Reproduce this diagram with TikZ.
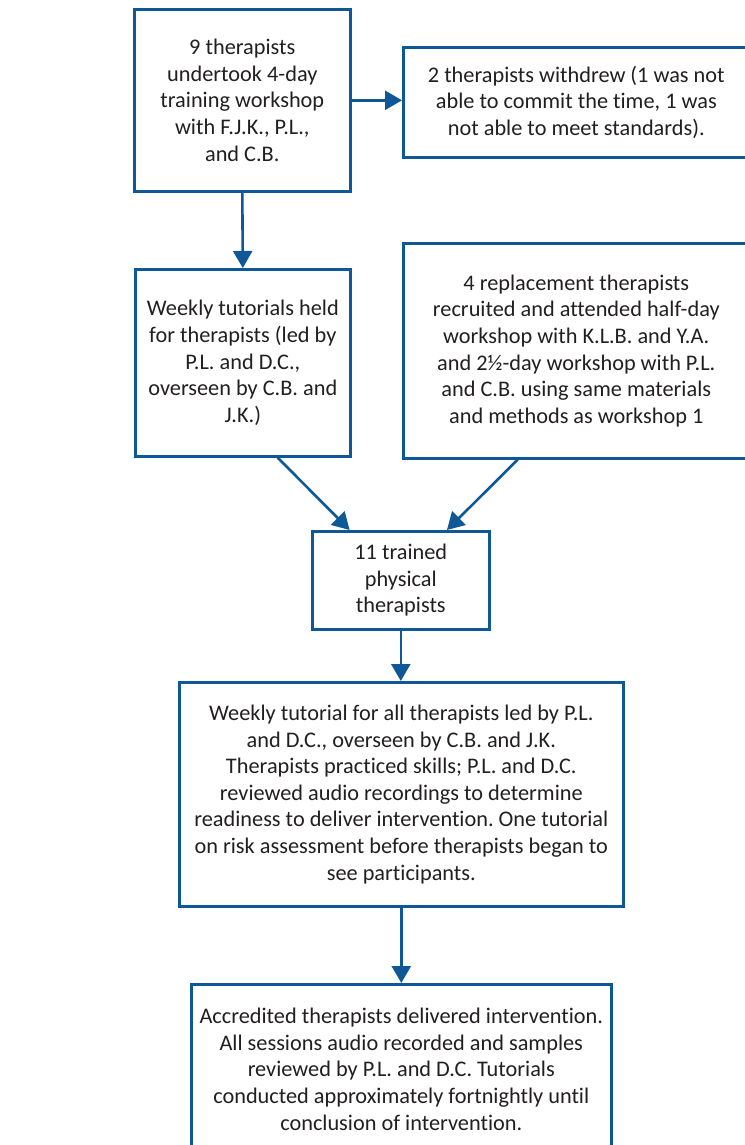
\documentclass[tikz,border=0pt]{standalone}
\usepackage{fontspec}
\setmainfont{Carlito}[Ligatures=NoCommon]
\usetikzlibrary{arrows.meta,calc}
\frenchspacing
\definecolor{boxblue}{RGB}{14,88,152}
\definecolor{txt}{RGB}{35,31,32}
\tikzset{
  flowbox/.style={draw=boxblue, line width=2.6pt, fill=white, anchor=north west, align=center,
    text=txt, inner sep=0pt, font=\fontsize{22.3}{26.6}\selectfont\frenchspacing},
  flowarrow/.style={draw=boxblue, line width=2.6pt, -{Triangle[length=17pt,width=19pt]}}
}
\begin{document}
\begin{tikzpicture}[x=1pt,y=-1pt]
\useasboundingbox (0,0) rectangle (744,1145);
\node[flowbox, minimum width=216pt, minimum height=182pt] (A) at (133,8)
  {9 therapists\\undertook 4-day\\training workshop\\with F.J.K., P.L.,\\and C.B.};
\node[flowbox, minimum width=346pt, minimum height=110pt] (B) at (402,46)
  {2 therapists withdrew (1 was not\\able to commit the time, 1 was\\not able to meet standards).};
\node[flowbox, minimum width=215pt, minimum height=187pt] (C) at (134,268)
  {Weekly tutorials held\\for therapists (led by\\P.L. and D.C.,\\overseen by C.B. and\\J.K.)};
\node[flowbox, minimum width=346pt, minimum height=215pt] (D) at (402,242)
  {4 replacement therapists\\recruited and attended half-day\\workshop with K.L.B. and Y.A.\\and 2½-day workshop with P.L.\\and C.B. using same materials\\and methods as workshop 1};
\node[flowbox, minimum width=177pt, minimum height=98pt] (E) at (311,530)
  {11 trained\\physical\\therapists};
\node[flowbox, minimum width=444pt, minimum height=224pt] (F) at (178,681)
  {Weekly tutorial for all therapists led by P.L.\\and D.C., overseen by C.B. and J.K.\\Therapists practiced skills; P.L. and D.C.\\reviewed audio recordings to determine\\readiness to deliver intervention. One tutorial\\on risk assessment before therapists began to\\see participants.};
\node[flowbox, minimum width=420pt, minimum height=170pt] (G) at (190,983)
  {Accredited therapists delivered intervention.\\All sessions audio recorded and samples\\reviewed by P.L. and D.C. Tutorials\\conducted approximately fortnightly until\\conclusion of intervention.};
\draw[flowarrow] (A.east) -- (A.east -| B.west);
\draw[flowarrow] (A.south) -- (C.north);
\draw[flowarrow] ($(C.south west)!0.66!(C.south east)$) -- ($(E.north west)!0.215!(E.north east)$);
\draw[flowarrow] ($(D.south west)!0.332!(D.south east)$) -- ($(E.north west)!0.757!(E.north east)$);
\draw[flowarrow] (E.south) -- (E.south |- F.north);
\draw[flowarrow] (F.south) -- (F.south |- G.north);
\end{tikzpicture}
\end{document}
